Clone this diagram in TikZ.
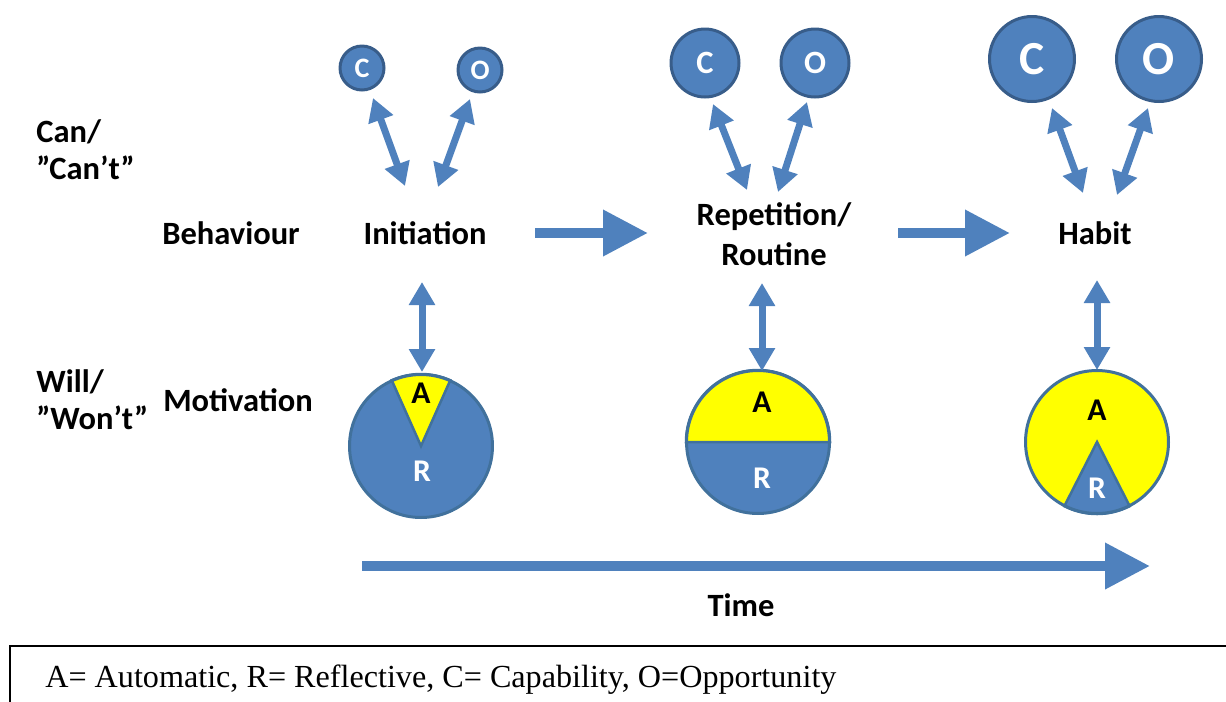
\documentclass[tikz,border=0pt]{standalone}
\usepackage{fontspec}
\setmainfont{Carlito}
\newfontfamily\legendfont{Liberation Serif}
\usetikzlibrary{arrows.meta}
\definecolor{cblue}{HTML}{4F81BD}
\definecolor{cedge}{HTML}{385D8A}
\definecolor{pedge}{HTML}{41719C}
\definecolor{ayellow}{HTML}{FFFF00}
\begin{document}
\begin{tikzpicture}[x=0.02cm,y=-0.02cm,
  lbl/.style={font=\fontsize{18.5}{22.8}\selectfont\bfseries, align=center, inner sep=0pt},
  side/.style={lbl, align=left, anchor=west, font=\fontsize{18.5}{21}\selectfont\bfseries},
  dot/.style={circle, fill=cblue, draw=cedge, line width=0.06cm, text=white, inner sep=0pt},
  dotS/.style={dot, minimum size=0.88cm, font=\fontsize{16}{16}\selectfont\bfseries},
  dotM/.style={dot, minimum size=1.36cm, font=\fontsize{18.5}{18.5}\selectfont\bfseries},
  dotL/.style={dot, minimum size=1.70cm, font=\fontsize{27}{27}\selectfont\bfseries},
  pie/.style={circle, draw=pedge, line width=0.06cm, minimum size=2.86cm, inner sep=0pt},
  wedge/.style={draw=pedge, line width=0.05cm},
  pielbl/.style={font=\fontsize{18}{18}\selectfont\bfseries, inner sep=0pt},
  link/.style={draw=cblue, line width=0.14cm,
    {Triangle[width=0.5cm,length=0.46cm]}-{Triangle[width=0.5cm,length=0.46cm]}},
  flow/.style={draw=cblue, line width=0.2cm, -{Triangle[width=0.88cm,length=0.9cm]}},
]
\useasboundingbox (0,0) rectangle (1226,701);

% row headings
\node[side] (can) at (36,150) {Can/\\”Can’t”};
\node[side] (will) at (36,400) {Will/\\”Won’t”};
\node[lbl] (beh) at (231,233) {Behaviour};
\node[lbl] (mot) at (238,400) {Motivation};

% stages
\node[lbl] (init) at (425,233) {Initiation};
\node[lbl] (rep) at (774,234) {Repetition/\\Routine};
\node[lbl] (hab) at (1095,233) {Habit};
\node[lbl] (time) at (741,605) {Time};

% capability / opportunity circles
\node[dotS] (c1) at (362,68) {C};
\node[dotS] (o1) at (480,70) {O};
\node[dotM] (c2) at (705,63) {C};
\node[dotM] (o2) at (815,63) {O};
\node[dotL] (c3) at (1032,59) {C};
\node[dotL] (o3) at (1159,59) {O};

% motivation pies: A = yellow, R = blue
\fill[cblue] (421,446) circle[radius=72];
\filldraw[fill=ayellow, wedge] (421,446) -- ++(-66:72) arc[start angle=-66, end angle=-114, radius=72] -- cycle;
\node[pie] (p1) at (421,446) {};
\node[pielbl] (a1) at (421,393) {A};
\node[pielbl, text=white] (r1) at (422,471) {R};

\fill[cblue] (758,442) circle[radius=72];
\filldraw[fill=ayellow, wedge] (686,442) arc[start angle=180, end angle=360, radius=72] -- cycle;
\node[pie] (p2) at (758,442) {};
\node[pielbl] (a2) at (762,402) {A};
\node[pielbl, text=white] (r2) at (762,478) {R};

\fill[ayellow] (1097,442) circle[radius=72];
\filldraw[fill=cblue, wedge] (1097,442) -- ++(117:72) arc[start angle=117, end angle=63, radius=72] -- cycle;
\node[pie] (p3) at (1097,442) {};
\node[pielbl] (a3) at (1097,410) {A};
\node[pielbl, text=white] (r3) at (1097,488) {R};

% link end points
\coordinate (c1t) at (373,98);   \coordinate (c1b) at (405,186);
\coordinate (o1t) at (470,99);   \coordinate (o1b) at (438,187);
\coordinate (i1t) at (422,282);  \coordinate (i1b) at (422,372);
\coordinate (c2t) at (713,104);  \coordinate (c2b) at (747,190);
\coordinate (o2t) at (807,102);  \coordinate (o2b) at (778,192);
\coordinate (i2t) at (762,283);  \coordinate (i2b) at (762,371);
\coordinate (c3t) at (1052,108); \coordinate (c3b) at (1083,193);
\coordinate (o3t) at (1148,108); \coordinate (o3b) at (1117,195);
\coordinate (i3t) at (1097,280); \coordinate (i3b) at (1097,370);

\draw[link] (c1t) -- (c1b);
\draw[link] (o1t) -- (o1b);
\draw[link] (i1t) -- (i1b);
\draw[link] (c2t) -- (c2b);
\draw[link] (o2t) -- (o2b);
\draw[link] (i2t) -- (i2b);
\draw[link] (c3t) -- (c3b);
\draw[link] (o3t) -- (o3b);
\draw[link] (i3t) -- (i3b);

% progression arrows
\coordinate (f1s) at (535,233); \coordinate (f1e) at (648,233);
\coordinate (f2s) at (898,233); \coordinate (f2e) at (1010,233);
\coordinate (ts) at (362,566);  \coordinate (te) at (1150,566);
\draw[flow] (f1s) -- (f1e);
\draw[flow] (f2s) -- (f2e);
\draw[flow] (ts) -- (te);

% legend
\draw[line width=0.04cm] (10,720) -- (10,646) -- (1240,646);
\node[anchor=base west, inner sep=0pt, font=\legendfont\fontsize{18.3}{20}\selectfont] (legend) at (45,687)
  {A= Automatic, R= Reflective, C= Capability, O=Opportunity};
\end{tikzpicture}
\end{document}
